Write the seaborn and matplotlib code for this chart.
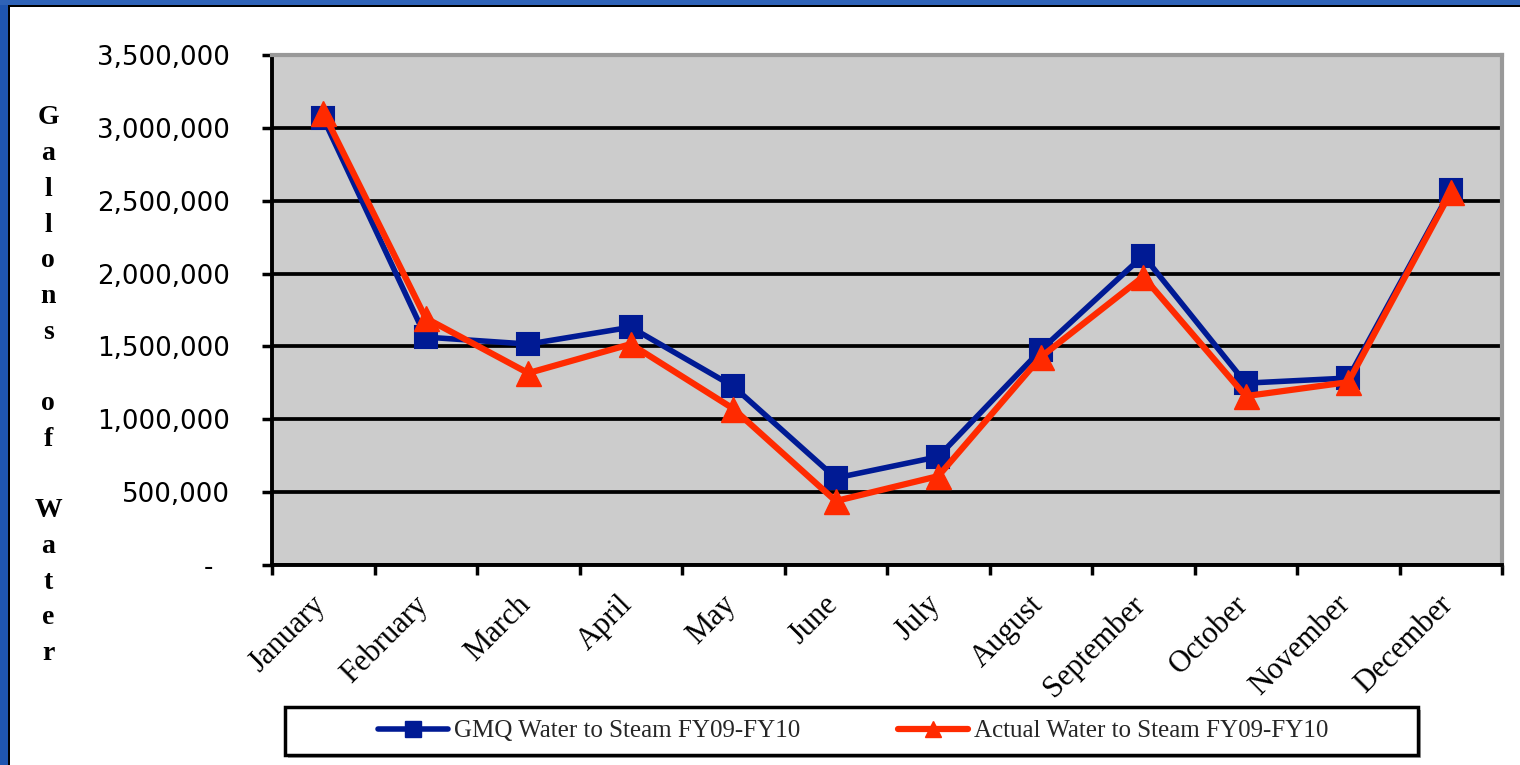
import numpy as np
import matplotlib
matplotlib.use("Agg")
import matplotlib.pyplot as plt
import matplotlib.transforms as mtransforms
from matplotlib.lines import Line2D
from matplotlib.patches import Rectangle
from matplotlib.ticker import FuncFormatter
import seaborn as sns

# ---------------- data ----------------
months = ["January", "February", "March", "April", "May", "June", "July",
          "August", "September", "October", "November", "December"]
gmq_values = [3066000, 1564000, 1516000, 1632000, 1226000, 597000, 743000,
              1475000, 2123000, 1248000, 1283000, 2572000]
actual_values = [3105000, 1694000, 1317000, 1516000, 1073000, 439000, 610000,
                 1427000, 1979000, 1159000, 1255000, 2558000]
series_names = ["GMQ Water to Steam FY09-FY10", "Actual Water to Steam FY09-FY10"]
y_ticks = [0, 500000, 1000000, 1500000, 2000000, 2500000, 3000000, 3500000]
y_label = "Gallons of Water"

# ---------------- style ----------------
NAVY = "#001a94"
RED = "#ff2a00"
W, H = 1520, 765

sns.set_theme(style="white")
plt.rcParams["font.family"] = ["DejaVu Sans"]

fig = plt.figure(figsize=(W / 100, H / 100), dpi=100)
fig.patch.set_facecolor("white")

ax = fig.add_axes([272 / W, 1 - 565 / H, 1230 / W, 510 / H])
ax.set_facecolor("#cccccc")

x = np.arange(len(months))
sns.lineplot(x=x, y=gmq_values, ax=ax, color=NAVY, marker="s", markersize=15.5,
             markeredgecolor=NAVY, markeredgewidth=1.5, linewidth=4, sort=False,
             zorder=3)
sns.lineplot(x=x, y=actual_values, ax=ax, color=RED, marker="^", markersize=18,
             markeredgecolor=RED, markeredgewidth=1, linewidth=4.5, sort=False,
             zorder=4)
if ax.get_legend() is not None:
    ax.get_legend().remove()

# axes limits & ticks
ax.set_xlim(-0.5, len(months) - 0.5)
ax.set_ylim(y_ticks[0], y_ticks[-1])
ax.set_yticks(y_ticks)
ax.yaxis.set_major_formatter(FuncFormatter(lambda v, p: "-  " if v == 0 else f"{v:,.0f}"))
ax.set_xticks(x)
ax.set_xticklabels(months)
ax.set_xticks(np.arange(-0.5, len(months)), minor=True)
ax.set_xlabel("")
ax.set_ylabel("")

ax.tick_params(axis="y", which="major", left=True, direction="out", length=7,
               width=2.5, color="black", pad=23, labelsize=18.8, labelcolor="black")
ax.tick_params(axis="x", which="major", bottom=True, length=0, pad=18,
               labelsize=22, labelcolor="black")
ax.tick_params(axis="x", which="minor", bottom=True, direction="out", length=7,
               width=2.5, color="black")

offset = mtransforms.ScaledTranslation(8 / 100, 0, fig.dpi_scale_trans)
for lab in ax.get_xticklabels():
    lab.set_rotation(45)
    lab.set_ha("right")
    lab.set_va("top")
    lab.set_fontfamily("Liberation Serif")
    lab.set_transform(lab.get_transform() + offset)

# grid
ax.yaxis.grid(True, color="black", linewidth=2.7)
ax.xaxis.grid(False)
ax.set_axisbelow(True)

# spines
for side in ["left", "bottom"]:
    ax.spines[side].set_color("black")
    ax.spines[side].set_linewidth(2.8)
for side in ["top", "right"]:
    ax.spines[side].set_color("#999999")
    ax.spines[side].set_linewidth(3)
    ax.spines[side].set_visible(True)

# vertical stacked y label
for i, ch in enumerate(y_label):
    if ch != " ":
        fig.text(48 / W, 1 - (118 + i * 35.7) / H, ch, ha="center", va="center",
                 fontweight="bold", family="Liberation Serif", fontsize=20,
                 color="black")

# legend
handles = [
    Line2D([], [], color=NAVY, marker="s", markersize=11, linewidth=4,
           markeredgecolor=NAVY),
    Line2D([], [], color=RED, marker="^", markersize=12, linewidth=4.5,
           markeredgecolor=RED),
]
fig.legend(handles, series_names, loc="center",
           bbox_to_anchor=(853.5 / W, 1 - 731 / H), ncol=2, frameon=False,
           prop={"family": "Liberation Serif", "size": 18},
           handlelength=2.8, handletextpad=0.25, columnspacing=3.9)
fig.patches.append(Rectangle((288 / W, 1 - 758 / H), (1418 - 285) / W, 48 / H,
                             transform=fig.transFigure, facecolor="#aaaaaa",
                             edgecolor="none", zorder=0))
fig.patches.append(Rectangle((285 / W, 1 - 755 / H), (1418 - 285) / W, 48 / H,
                             transform=fig.transFigure, facecolor="white",
                             edgecolor="black", linewidth=2.5, zorder=1))

# outer slide border (top and left)
fig.patches.append(Rectangle((0, 0), 8 / W, 1, transform=fig.transFigure,
                             facecolor="#1f55b0", edgecolor="none"))
fig.patches.append(Rectangle((0, 1 - 5 / H), 1, 5 / H, transform=fig.transFigure,
                             facecolor="#2f63b8", edgecolor="none"))
fig.patches.append(Rectangle((8 / W, 0), 2 / W, 1 - 5 / H, transform=fig.transFigure,
                             facecolor="black", edgecolor="none"))
fig.patches.append(Rectangle((8 / W, 1 - 7 / H), 1 - 8 / W, 2 / H,
                             transform=fig.transFigure, facecolor="black",
                             edgecolor="none"))

fig.savefig("out.png", dpi=100)
